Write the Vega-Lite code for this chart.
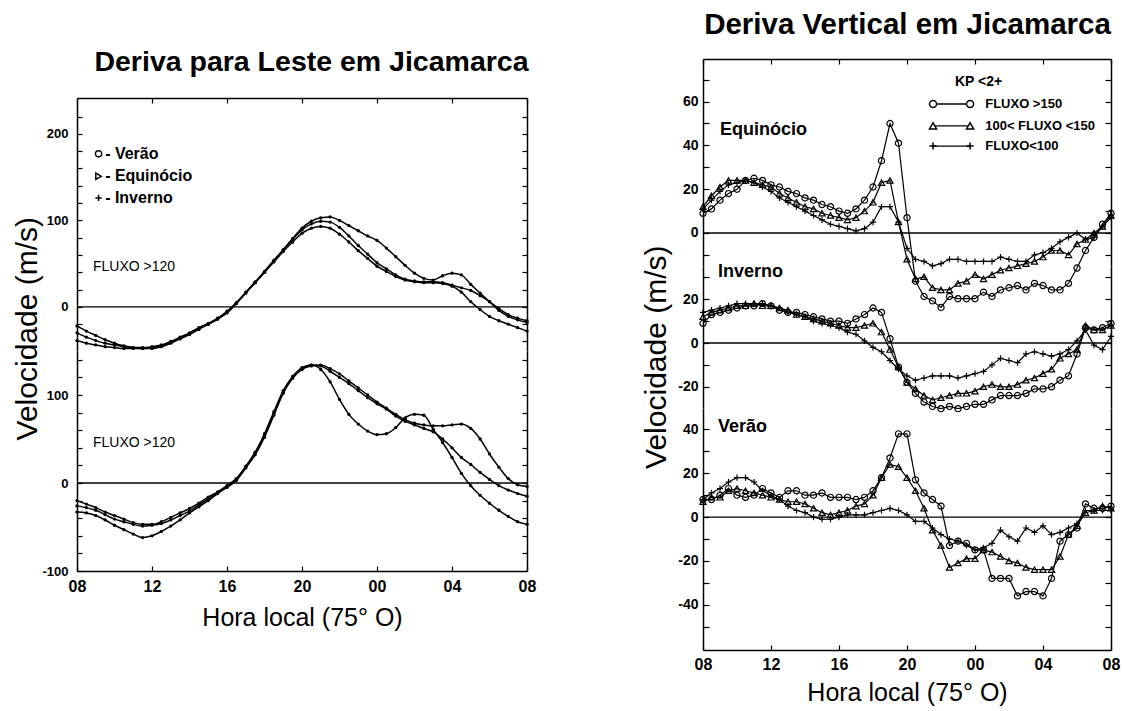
{
  "$schema": "https://vega.github.io/schema/vega-lite/v6.json",
  "background": "white",
  "padding": {"left": 12, "top": 9, "right": 4, "bottom": 2},
  "datasets": {
    "leste_sup": [
      {"serie":"V","hora":8,"vel":-39},{"serie":"V","hora":8.5,"vel":-42},{"serie":"V","hora":9,"vel":-44},{"serie":"V","hora":9.5,"vel":-46},{"serie":"V","hora":10,"vel":-47},{"serie":"V","hora":10.5,"vel":-48},{"serie":"V","hora":11,"vel":-48},{"serie":"V","hora":11.5,"vel":-48},{"serie":"V","hora":12,"vel":-47},{"serie":"V","hora":12.5,"vel":-45},{"serie":"V","hora":13,"vel":-41},{"serie":"V","hora":13.5,"vel":-36},{"serie":"V","hora":14,"vel":-31},{"serie":"V","hora":14.5,"vel":-25},{"serie":"V","hora":15,"vel":-20},{"serie":"V","hora":15.5,"vel":-14},{"serie":"V","hora":16,"vel":-7},{"serie":"V","hora":16.5,"vel":4},{"serie":"V","hora":17,"vel":16},{"serie":"V","hora":17.5,"vel":28},{"serie":"V","hora":18,"vel":40},{"serie":"V","hora":18.5,"vel":52},{"serie":"V","hora":19,"vel":64},{"serie":"V","hora":19.5,"vel":75},{"serie":"V","hora":20,"vel":85},{"serie":"V","hora":20.5,"vel":91},{"serie":"V","hora":21,"vel":93},{"serie":"V","hora":21.5,"vel":91},{"serie":"V","hora":22,"vel":84},{"serie":"V","hora":22.5,"vel":75},{"serie":"V","hora":23,"vel":65},{"serie":"V","hora":23.5,"vel":56},{"serie":"V","hora":24,"vel":47},{"serie":"V","hora":24.5,"vel":41},{"serie":"V","hora":25,"vel":35},{"serie":"V","hora":25.5,"vel":31},{"serie":"V","hora":26,"vel":29},{"serie":"V","hora":26.5,"vel":28},{"serie":"V","hora":27,"vel":28},{"serie":"V","hora":27.5,"vel":27},{"serie":"V","hora":28,"vel":24},{"serie":"V","hora":28.5,"vel":17},{"serie":"V","hora":29,"vel":6},{"serie":"V","hora":29.5,"vel":-3},{"serie":"V","hora":30,"vel":-11},{"serie":"V","hora":30.5,"vel":-16},{"serie":"V","hora":31,"vel":-20},{"serie":"V","hora":31.5,"vel":-24},{"serie":"V","hora":32,"vel":-28},
      {"serie":"E","hora":8,"vel":-30},{"serie":"E","hora":8.5,"vel":-35},{"serie":"E","hora":9,"vel":-39},{"serie":"E","hora":9.5,"vel":-42},{"serie":"E","hora":10,"vel":-44},{"serie":"E","hora":10.5,"vel":-46},{"serie":"E","hora":11,"vel":-47},{"serie":"E","hora":11.5,"vel":-47},{"serie":"E","hora":12,"vel":-46},{"serie":"E","hora":12.5,"vel":-44},{"serie":"E","hora":13,"vel":-40},{"serie":"E","hora":13.5,"vel":-35},{"serie":"E","hora":14,"vel":-30},{"serie":"E","hora":14.5,"vel":-24},{"serie":"E","hora":15,"vel":-19},{"serie":"E","hora":15.5,"vel":-13},{"serie":"E","hora":16,"vel":-5},{"serie":"E","hora":16.5,"vel":5},{"serie":"E","hora":17,"vel":17},{"serie":"E","hora":17.5,"vel":29},{"serie":"E","hora":18,"vel":41},{"serie":"E","hora":18.5,"vel":54},{"serie":"E","hora":19,"vel":66},{"serie":"E","hora":19.5,"vel":78},{"serie":"E","hora":20,"vel":89},{"serie":"E","hora":20.5,"vel":96},{"serie":"E","hora":21,"vel":99},{"serie":"E","hora":21.5,"vel":98},{"serie":"E","hora":22,"vel":92},{"serie":"E","hora":22.5,"vel":82},{"serie":"E","hora":23,"vel":71},{"serie":"E","hora":23.5,"vel":61},{"serie":"E","hora":24,"vel":51},{"serie":"E","hora":24.5,"vel":44},{"serie":"E","hora":25,"vel":37},{"serie":"E","hora":25.5,"vel":32},{"serie":"E","hora":26,"vel":30},{"serie":"E","hora":26.5,"vel":29},{"serie":"E","hora":27,"vel":29},{"serie":"E","hora":27.5,"vel":28},{"serie":"E","hora":28,"vel":25},{"serie":"E","hora":28.5,"vel":22},{"serie":"E","hora":29,"vel":19},{"serie":"E","hora":29.5,"vel":13},{"serie":"E","hora":30,"vel":6},{"serie":"E","hora":30.5,"vel":-2},{"serie":"E","hora":31,"vel":-9},{"serie":"E","hora":31.5,"vel":-13},{"serie":"E","hora":32,"vel":-16},
      {"serie":"I","hora":8,"vel":-22},{"serie":"I","hora":8.5,"vel":-28},{"serie":"I","hora":9,"vel":-33},{"serie":"I","hora":9.5,"vel":-38},{"serie":"I","hora":10,"vel":-42},{"serie":"I","hora":10.5,"vel":-45},{"serie":"I","hora":11,"vel":-47},{"serie":"I","hora":11.5,"vel":-48},{"serie":"I","hora":12,"vel":-48},{"serie":"I","hora":12.5,"vel":-46},{"serie":"I","hora":13,"vel":-42},{"serie":"I","hora":13.5,"vel":-37},{"serie":"I","hora":14,"vel":-32},{"serie":"I","hora":14.5,"vel":-26},{"serie":"I","hora":15,"vel":-20},{"serie":"I","hora":15.5,"vel":-14},{"serie":"I","hora":16,"vel":-6},{"serie":"I","hora":16.5,"vel":4},{"serie":"I","hora":17,"vel":16},{"serie":"I","hora":17.5,"vel":28},{"serie":"I","hora":18,"vel":40},{"serie":"I","hora":18.5,"vel":53},{"serie":"I","hora":19,"vel":66},{"serie":"I","hora":19.5,"vel":79},{"serie":"I","hora":20,"vel":91},{"serie":"I","hora":20.5,"vel":99},{"serie":"I","hora":21,"vel":103},{"serie":"I","hora":21.5,"vel":104},{"serie":"I","hora":22,"vel":100},{"serie":"I","hora":22.5,"vel":94},{"serie":"I","hora":23,"vel":88},{"serie":"I","hora":23.5,"vel":82},{"serie":"I","hora":24,"vel":77},{"serie":"I","hora":24.5,"vel":68},{"serie":"I","hora":25,"vel":58},{"serie":"I","hora":25.5,"vel":48},{"serie":"I","hora":26,"vel":39},{"serie":"I","hora":26.5,"vel":33},{"serie":"I","hora":27,"vel":31},{"serie":"I","hora":27.5,"vel":36},{"serie":"I","hora":28,"vel":39},{"serie":"I","hora":28.5,"vel":37},{"serie":"I","hora":29,"vel":26},{"serie":"I","hora":29.5,"vel":16},{"serie":"I","hora":30,"vel":6},{"serie":"I","hora":30.5,"vel":-4},{"serie":"I","hora":31,"vel":-11},{"serie":"I","hora":31.5,"vel":-15},{"serie":"I","hora":32,"vel":-18}
    ],
    "leste_inf": [
      {"serie":"V","hora":8,"vel":-20},{"serie":"V","hora":8.5,"vel":-24},{"serie":"V","hora":9,"vel":-28},{"serie":"V","hora":9.5,"vel":-33},{"serie":"V","hora":10,"vel":-37},{"serie":"V","hora":10.5,"vel":-41},{"serie":"V","hora":11,"vel":-45},{"serie":"V","hora":11.5,"vel":-47},{"serie":"V","hora":12,"vel":-47},{"serie":"V","hora":12.5,"vel":-44},{"serie":"V","hora":13,"vel":-39},{"serie":"V","hora":13.5,"vel":-34},{"serie":"V","hora":14,"vel":-29},{"serie":"V","hora":14.5,"vel":-23},{"serie":"V","hora":15,"vel":-16},{"serie":"V","hora":15.5,"vel":-10},{"serie":"V","hora":16,"vel":-3},{"serie":"V","hora":16.5,"vel":5},{"serie":"V","hora":17,"vel":19},{"serie":"V","hora":17.5,"vel":35},{"serie":"V","hora":18,"vel":56},{"serie":"V","hora":18.5,"vel":81},{"serie":"V","hora":19,"vel":105},{"serie":"V","hora":19.5,"vel":121},{"serie":"V","hora":20,"vel":131},{"serie":"V","hora":20.5,"vel":134},{"serie":"V","hora":21,"vel":129},{"serie":"V","hora":21.5,"vel":115},{"serie":"V","hora":22,"vel":95},{"serie":"V","hora":22.5,"vel":78},{"serie":"V","hora":23,"vel":67},{"serie":"V","hora":23.5,"vel":59},{"serie":"V","hora":24,"vel":55},{"serie":"V","hora":24.5,"vel":56},{"serie":"V","hora":25,"vel":63},{"serie":"V","hora":25.5,"vel":74},{"serie":"V","hora":26,"vel":78},{"serie":"V","hora":26.5,"vel":77},{"serie":"V","hora":27,"vel":61},{"serie":"V","hora":27.5,"vel":46},{"serie":"V","hora":28,"vel":29},{"serie":"V","hora":28.5,"vel":11},{"serie":"V","hora":29,"vel":-3},{"serie":"V","hora":29.5,"vel":-14},{"serie":"V","hora":30,"vel":-23},{"serie":"V","hora":30.5,"vel":-31},{"serie":"V","hora":31,"vel":-38},{"serie":"V","hora":31.5,"vel":-44},{"serie":"V","hora":32,"vel":-47},
      {"serie":"E","hora":8,"vel":-26},{"serie":"E","hora":8.5,"vel":-28},{"serie":"E","hora":9,"vel":-31},{"serie":"E","hora":9.5,"vel":-36},{"serie":"E","hora":10,"vel":-41},{"serie":"E","hora":10.5,"vel":-44},{"serie":"E","hora":11,"vel":-47},{"serie":"E","hora":11.5,"vel":-49},{"serie":"E","hora":12,"vel":-48},{"serie":"E","hora":12.5,"vel":-46},{"serie":"E","hora":13,"vel":-42},{"serie":"E","hora":13.5,"vel":-37},{"serie":"E","hora":14,"vel":-32},{"serie":"E","hora":14.5,"vel":-25},{"serie":"E","hora":15,"vel":-18},{"serie":"E","hora":15.5,"vel":-11},{"serie":"E","hora":16,"vel":-4},{"serie":"E","hora":16.5,"vel":4},{"serie":"E","hora":17,"vel":18},{"serie":"E","hora":17.5,"vel":34},{"serie":"E","hora":18,"vel":54},{"serie":"E","hora":18.5,"vel":79},{"serie":"E","hora":19,"vel":103},{"serie":"E","hora":19.5,"vel":120},{"serie":"E","hora":20,"vel":130},{"serie":"E","hora":20.5,"vel":134},{"serie":"E","hora":21,"vel":133},{"serie":"E","hora":21.5,"vel":127},{"serie":"E","hora":22,"vel":120},{"serie":"E","hora":22.5,"vel":113},{"serie":"E","hora":23,"vel":105},{"serie":"E","hora":23.5,"vel":97},{"serie":"E","hora":24,"vel":90},{"serie":"E","hora":24.5,"vel":84},{"serie":"E","hora":25,"vel":76},{"serie":"E","hora":25.5,"vel":70},{"serie":"E","hora":26,"vel":66},{"serie":"E","hora":26.5,"vel":62},{"serie":"E","hora":27,"vel":58},{"serie":"E","hora":27.5,"vel":50},{"serie":"E","hora":28,"vel":40},{"serie":"E","hora":28.5,"vel":29},{"serie":"E","hora":29,"vel":21},{"serie":"E","hora":29.5,"vel":12},{"serie":"E","hora":30,"vel":4},{"serie":"E","hora":30.5,"vel":-3},{"serie":"E","hora":31,"vel":-8},{"serie":"E","hora":31.5,"vel":-12},{"serie":"E","hora":32,"vel":-15},
      {"serie":"I","hora":8,"vel":-33},{"serie":"I","hora":8.5,"vel":-34},{"serie":"I","hora":9,"vel":-37},{"serie":"I","hora":9.5,"vel":-42},{"serie":"I","hora":10,"vel":-48},{"serie":"I","hora":10.5,"vel":-53},{"serie":"I","hora":11,"vel":-58},{"serie":"I","hora":11.5,"vel":-62},{"serie":"I","hora":12,"vel":-60},{"serie":"I","hora":12.5,"vel":-55},{"serie":"I","hora":13,"vel":-49},{"serie":"I","hora":13.5,"vel":-42},{"serie":"I","hora":14,"vel":-34},{"serie":"I","hora":14.5,"vel":-27},{"serie":"I","hora":15,"vel":-20},{"serie":"I","hora":15.5,"vel":-12},{"serie":"I","hora":16,"vel":-5},{"serie":"I","hora":16.5,"vel":3},{"serie":"I","hora":17,"vel":17},{"serie":"I","hora":17.5,"vel":32},{"serie":"I","hora":18,"vel":52},{"serie":"I","hora":18.5,"vel":77},{"serie":"I","hora":19,"vel":102},{"serie":"I","hora":19.5,"vel":119},{"serie":"I","hora":20,"vel":129},{"serie":"I","hora":20.5,"vel":133},{"serie":"I","hora":21,"vel":134},{"serie":"I","hora":21.5,"vel":130},{"serie":"I","hora":22,"vel":124},{"serie":"I","hora":22.5,"vel":116},{"serie":"I","hora":23,"vel":108},{"serie":"I","hora":23.5,"vel":100},{"serie":"I","hora":24,"vel":92},{"serie":"I","hora":24.5,"vel":85},{"serie":"I","hora":25,"vel":78},{"serie":"I","hora":25.5,"vel":72},{"serie":"I","hora":26,"vel":68},{"serie":"I","hora":26.5,"vel":66},{"serie":"I","hora":27,"vel":65},{"serie":"I","hora":27.5,"vel":65},{"serie":"I","hora":28,"vel":66},{"serie":"I","hora":28.5,"vel":67},{"serie":"I","hora":29,"vel":62},{"serie":"I","hora":29.5,"vel":50},{"serie":"I","hora":30,"vel":33},{"serie":"I","hora":30.5,"vel":18},{"serie":"I","hora":31,"vel":5},{"serie":"I","hora":31.5,"vel":-2},{"serie":"I","hora":32,"vel":-4}
    ],
    "vert_eq": [
      {"serie":"A","hora":8,"vel":9},{"serie":"A","hora":8.5,"vel":11},{"serie":"A","hora":9,"vel":15},{"serie":"A","hora":9.5,"vel":18},{"serie":"A","hora":10,"vel":20},{"serie":"A","hora":10.5,"vel":24},{"serie":"A","hora":11,"vel":25},{"serie":"A","hora":11.5,"vel":24},{"serie":"A","hora":12,"vel":22},{"serie":"A","hora":12.5,"vel":21},{"serie":"A","hora":13,"vel":19},{"serie":"A","hora":13.5,"vel":18},{"serie":"A","hora":14,"vel":16},{"serie":"A","hora":14.5,"vel":15},{"serie":"A","hora":15,"vel":13},{"serie":"A","hora":15.5,"vel":12},{"serie":"A","hora":16,"vel":10},{"serie":"A","hora":16.5,"vel":9},{"serie":"A","hora":17,"vel":11},{"serie":"A","hora":17.5,"vel":15},{"serie":"A","hora":18,"vel":21},{"serie":"A","hora":18.5,"vel":33},{"serie":"A","hora":19,"vel":50},{"serie":"A","hora":19.5,"vel":41},{"serie":"A","hora":20,"vel":7},{"serie":"A","hora":20.5,"vel":-22},{"serie":"A","hora":21,"vel":-29},{"serie":"A","hora":21.5,"vel":-31},{"serie":"A","hora":22,"vel":-34},{"serie":"A","hora":22.5,"vel":-29},{"serie":"A","hora":23,"vel":-30},{"serie":"A","hora":23.5,"vel":-30},{"serie":"A","hora":24,"vel":-30},{"serie":"A","hora":24.5,"vel":-27},{"serie":"A","hora":25,"vel":-29},{"serie":"A","hora":25.5,"vel":-26},{"serie":"A","hora":26,"vel":-25},{"serie":"A","hora":26.5,"vel":-24},{"serie":"A","hora":27,"vel":-26},{"serie":"A","hora":27.5,"vel":-23},{"serie":"A","hora":28,"vel":-24},{"serie":"A","hora":28.5,"vel":-26},{"serie":"A","hora":29,"vel":-26},{"serie":"A","hora":29.5,"vel":-23},{"serie":"A","hora":30,"vel":-16},{"serie":"A","hora":30.5,"vel":-8},{"serie":"A","hora":31,"vel":-2},{"serie":"A","hora":31.5,"vel":4},{"serie":"A","hora":32,"vel":9},
      {"serie":"B","hora":8,"vel":12},{"serie":"B","hora":8.5,"vel":17},{"serie":"B","hora":9,"vel":21},{"serie":"B","hora":9.5,"vel":24},{"serie":"B","hora":10,"vel":24},{"serie":"B","hora":10.5,"vel":24},{"serie":"B","hora":11,"vel":23},{"serie":"B","hora":11.5,"vel":22},{"serie":"B","hora":12,"vel":21},{"serie":"B","hora":12.5,"vel":18},{"serie":"B","hora":13,"vel":16},{"serie":"B","hora":13.5,"vel":14},{"serie":"B","hora":14,"vel":12},{"serie":"B","hora":14.5,"vel":11},{"serie":"B","hora":15,"vel":9},{"serie":"B","hora":15.5,"vel":8},{"serie":"B","hora":16,"vel":7},{"serie":"B","hora":16.5,"vel":6},{"serie":"B","hora":17,"vel":7},{"serie":"B","hora":17.5,"vel":10},{"serie":"B","hora":18,"vel":14},{"serie":"B","hora":18.5,"vel":23},{"serie":"B","hora":19,"vel":24},{"serie":"B","hora":19.5,"vel":5},{"serie":"B","hora":20,"vel":-12},{"serie":"B","hora":20.5,"vel":-21},{"serie":"B","hora":21,"vel":-20},{"serie":"B","hora":21.5,"vel":-25},{"serie":"B","hora":22,"vel":-26},{"serie":"B","hora":22.5,"vel":-26},{"serie":"B","hora":23,"vel":-23},{"serie":"B","hora":23.5,"vel":-22},{"serie":"B","hora":24,"vel":-19},{"serie":"B","hora":24.5,"vel":-21},{"serie":"B","hora":25,"vel":-19},{"serie":"B","hora":25.5,"vel":-17},{"serie":"B","hora":26,"vel":-16},{"serie":"B","hora":26.5,"vel":-15},{"serie":"B","hora":27,"vel":-14},{"serie":"B","hora":27.5,"vel":-13},{"serie":"B","hora":28,"vel":-11},{"serie":"B","hora":28.5,"vel":-8},{"serie":"B","hora":29,"vel":-8},{"serie":"B","hora":29.5,"vel":-10},{"serie":"B","hora":30,"vel":-5},{"serie":"B","hora":30.5,"vel":-3},{"serie":"B","hora":31,"vel":0},{"serie":"B","hora":31.5,"vel":3},{"serie":"B","hora":32,"vel":8},
      {"serie":"C","hora":8,"vel":11},{"serie":"C","hora":8.5,"vel":15},{"serie":"C","hora":9,"vel":19},{"serie":"C","hora":9.5,"vel":22},{"serie":"C","hora":10,"vel":23},{"serie":"C","hora":10.5,"vel":24},{"serie":"C","hora":11,"vel":23},{"serie":"C","hora":11.5,"vel":21},{"serie":"C","hora":12,"vel":19},{"serie":"C","hora":12.5,"vel":16},{"serie":"C","hora":13,"vel":14},{"serie":"C","hora":13.5,"vel":12},{"serie":"C","hora":14,"vel":10},{"serie":"C","hora":14.5,"vel":8},{"serie":"C","hora":15,"vel":6},{"serie":"C","hora":15.5,"vel":4},{"serie":"C","hora":16,"vel":3},{"serie":"C","hora":16.5,"vel":2},{"serie":"C","hora":17,"vel":1},{"serie":"C","hora":17.5,"vel":2},{"serie":"C","hora":18,"vel":5},{"serie":"C","hora":18.5,"vel":12},{"serie":"C","hora":19,"vel":12},{"serie":"C","hora":19.5,"vel":5},{"serie":"C","hora":20,"vel":-7},{"serie":"C","hora":20.5,"vel":-12},{"serie":"C","hora":21,"vel":-13},{"serie":"C","hora":21.5,"vel":-15},{"serie":"C","hora":22,"vel":-14},{"serie":"C","hora":22.5,"vel":-12},{"serie":"C","hora":23,"vel":-12},{"serie":"C","hora":23.5,"vel":-13},{"serie":"C","hora":24,"vel":-13},{"serie":"C","hora":24.5,"vel":-13},{"serie":"C","hora":25,"vel":-13},{"serie":"C","hora":25.5,"vel":-11},{"serie":"C","hora":26,"vel":-12},{"serie":"C","hora":26.5,"vel":-13},{"serie":"C","hora":27,"vel":-13},{"serie":"C","hora":27.5,"vel":-10},{"serie":"C","hora":28,"vel":-9},{"serie":"C","hora":28.5,"vel":-7},{"serie":"C","hora":29,"vel":-4},{"serie":"C","hora":29.5,"vel":-2},{"serie":"C","hora":30,"vel":0},{"serie":"C","hora":30.5,"vel":-3},{"serie":"C","hora":31,"vel":-2},{"serie":"C","hora":31.5,"vel":3},{"serie":"C","hora":32,"vel":7}
    ],
    "vert_in": [
      {"serie":"A","hora":8,"vel":9},{"serie":"A","hora":8.5,"vel":13},{"serie":"A","hora":9,"vel":14},{"serie":"A","hora":9.5,"vel":15},{"serie":"A","hora":10,"vel":16},{"serie":"A","hora":10.5,"vel":17},{"serie":"A","hora":11,"vel":17},{"serie":"A","hora":11.5,"vel":18},{"serie":"A","hora":12,"vel":17},{"serie":"A","hora":12.5,"vel":15},{"serie":"A","hora":13,"vel":14},{"serie":"A","hora":13.5,"vel":14},{"serie":"A","hora":14,"vel":13},{"serie":"A","hora":14.5,"vel":12},{"serie":"A","hora":15,"vel":11},{"serie":"A","hora":15.5,"vel":10},{"serie":"A","hora":16,"vel":10},{"serie":"A","hora":16.5,"vel":9},{"serie":"A","hora":17,"vel":11},{"serie":"A","hora":17.5,"vel":13},{"serie":"A","hora":18,"vel":16},{"serie":"A","hora":18.5,"vel":14},{"serie":"A","hora":19,"vel":2},{"serie":"A","hora":19.5,"vel":-11},{"serie":"A","hora":20,"vel":-18},{"serie":"A","hora":20.5,"vel":-23},{"serie":"A","hora":21,"vel":-27},{"serie":"A","hora":21.5,"vel":-29},{"serie":"A","hora":22,"vel":-30},{"serie":"A","hora":22.5,"vel":-29},{"serie":"A","hora":23,"vel":-30},{"serie":"A","hora":23.5,"vel":-29},{"serie":"A","hora":24,"vel":-28},{"serie":"A","hora":24.5,"vel":-28},{"serie":"A","hora":25,"vel":-26},{"serie":"A","hora":25.5,"vel":-24},{"serie":"A","hora":26,"vel":-24},{"serie":"A","hora":26.5,"vel":-24},{"serie":"A","hora":27,"vel":-23},{"serie":"A","hora":27.5,"vel":-21},{"serie":"A","hora":28,"vel":-21},{"serie":"A","hora":28.5,"vel":-20},{"serie":"A","hora":29,"vel":-17},{"serie":"A","hora":29.5,"vel":-15},{"serie":"A","hora":30,"vel":-5},{"serie":"A","hora":30.5,"vel":7},{"serie":"A","hora":31,"vel":6},{"serie":"A","hora":31.5,"vel":7},{"serie":"A","hora":32,"vel":9},
      {"serie":"B","hora":8,"vel":12},{"serie":"B","hora":8.5,"vel":14},{"serie":"B","hora":9,"vel":15},{"serie":"B","hora":9.5,"vel":16},{"serie":"B","hora":10,"vel":17},{"serie":"B","hora":10.5,"vel":17},{"serie":"B","hora":11,"vel":18},{"serie":"B","hora":11.5,"vel":17},{"serie":"B","hora":12,"vel":17},{"serie":"B","hora":12.5,"vel":16},{"serie":"B","hora":13,"vel":15},{"serie":"B","hora":13.5,"vel":13},{"serie":"B","hora":14,"vel":12},{"serie":"B","hora":14.5,"vel":11},{"serie":"B","hora":15,"vel":10},{"serie":"B","hora":15.5,"vel":9},{"serie":"B","hora":16,"vel":8},{"serie":"B","hora":16.5,"vel":7},{"serie":"B","hora":17,"vel":7},{"serie":"B","hora":17.5,"vel":8},{"serie":"B","hora":18,"vel":9},{"serie":"B","hora":18.5,"vel":5},{"serie":"B","hora":19,"vel":-3},{"serie":"B","hora":19.5,"vel":-11},{"serie":"B","hora":20,"vel":-18},{"serie":"B","hora":20.5,"vel":-21},{"serie":"B","hora":21,"vel":-24},{"serie":"B","hora":21.5,"vel":-26},{"serie":"B","hora":22,"vel":-25},{"serie":"B","hora":22.5,"vel":-24},{"serie":"B","hora":23,"vel":-23},{"serie":"B","hora":23.5,"vel":-23},{"serie":"B","hora":24,"vel":-22},{"serie":"B","hora":24.5,"vel":-20},{"serie":"B","hora":25,"vel":-19},{"serie":"B","hora":25.5,"vel":-20},{"serie":"B","hora":26,"vel":-20},{"serie":"B","hora":26.5,"vel":-19},{"serie":"B","hora":27,"vel":-17},{"serie":"B","hora":27.5,"vel":-16},{"serie":"B","hora":28,"vel":-14},{"serie":"B","hora":28.5,"vel":-12},{"serie":"B","hora":29,"vel":-7},{"serie":"B","hora":29.5,"vel":-5},{"serie":"B","hora":30,"vel":-3},{"serie":"B","hora":30.5,"vel":8},{"serie":"B","hora":31,"vel":6},{"serie":"B","hora":31.5,"vel":6},{"serie":"B","hora":32,"vel":8},
      {"serie":"C","hora":8,"vel":14},{"serie":"C","hora":8.5,"vel":15},{"serie":"C","hora":9,"vel":16},{"serie":"C","hora":9.5,"vel":17},{"serie":"C","hora":10,"vel":18},{"serie":"C","hora":10.5,"vel":18},{"serie":"C","hora":11,"vel":18},{"serie":"C","hora":11.5,"vel":18},{"serie":"C","hora":12,"vel":17},{"serie":"C","hora":12.5,"vel":16},{"serie":"C","hora":13,"vel":14},{"serie":"C","hora":13.5,"vel":13},{"serie":"C","hora":14,"vel":12},{"serie":"C","hora":14.5,"vel":10},{"serie":"C","hora":15,"vel":9},{"serie":"C","hora":15.5,"vel":8},{"serie":"C","hora":16,"vel":7},{"serie":"C","hora":16.5,"vel":5},{"serie":"C","hora":17,"vel":4},{"serie":"C","hora":17.5,"vel":1},{"serie":"C","hora":18,"vel":-2},{"serie":"C","hora":18.5,"vel":-4},{"serie":"C","hora":19,"vel":-8},{"serie":"C","hora":19.5,"vel":-12},{"serie":"C","hora":20,"vel":-15},{"serie":"C","hora":20.5,"vel":-17},{"serie":"C","hora":21,"vel":-16},{"serie":"C","hora":21.5,"vel":-15},{"serie":"C","hora":22,"vel":-15},{"serie":"C","hora":22.5,"vel":-15},{"serie":"C","hora":23,"vel":-16},{"serie":"C","hora":23.5,"vel":-15},{"serie":"C","hora":24,"vel":-14},{"serie":"C","hora":24.5,"vel":-13},{"serie":"C","hora":25,"vel":-10},{"serie":"C","hora":25.5,"vel":-7},{"serie":"C","hora":26,"vel":-8},{"serie":"C","hora":26.5,"vel":-9},{"serie":"C","hora":27,"vel":-5},{"serie":"C","hora":27.5,"vel":-4},{"serie":"C","hora":28,"vel":-5},{"serie":"C","hora":28.5,"vel":-6},{"serie":"C","hora":29,"vel":-5},{"serie":"C","hora":29.5,"vel":-3},{"serie":"C","hora":30,"vel":1},{"serie":"C","hora":30.5,"vel":6},{"serie":"C","hora":31,"vel":-1},{"serie":"C","hora":31.5,"vel":-3},{"serie":"C","hora":32,"vel":3}
    ],
    "vert_ve": [
      {"serie":"A","hora":8,"vel":8},{"serie":"A","hora":8.5,"vel":8},{"serie":"A","hora":9,"vel":10},{"serie":"A","hora":9.5,"vel":13},{"serie":"A","hora":10,"vel":10},{"serie":"A","hora":10.5,"vel":9},{"serie":"A","hora":11,"vel":10},{"serie":"A","hora":11.5,"vel":13},{"serie":"A","hora":12,"vel":11},{"serie":"A","hora":12.5,"vel":9},{"serie":"A","hora":13,"vel":12},{"serie":"A","hora":13.5,"vel":12},{"serie":"A","hora":14,"vel":10},{"serie":"A","hora":14.5,"vel":10},{"serie":"A","hora":15,"vel":11},{"serie":"A","hora":15.5,"vel":9},{"serie":"A","hora":16,"vel":9},{"serie":"A","hora":16.5,"vel":9},{"serie":"A","hora":17,"vel":8},{"serie":"A","hora":17.5,"vel":9},{"serie":"A","hora":18,"vel":12},{"serie":"A","hora":18.5,"vel":18},{"serie":"A","hora":19,"vel":27},{"serie":"A","hora":19.5,"vel":38},{"serie":"A","hora":20,"vel":38},{"serie":"A","hora":20.5,"vel":17},{"serie":"A","hora":21,"vel":11},{"serie":"A","hora":21.5,"vel":8},{"serie":"A","hora":22,"vel":5},{"serie":"A","hora":22.5,"vel":-13},{"serie":"A","hora":23,"vel":-11},{"serie":"A","hora":23.5,"vel":-12},{"serie":"A","hora":24,"vel":-15},{"serie":"A","hora":24.5,"vel":-15},{"serie":"A","hora":25,"vel":-28},{"serie":"A","hora":25.5,"vel":-28},{"serie":"A","hora":26,"vel":-28},{"serie":"A","hora":26.5,"vel":-36},{"serie":"A","hora":27,"vel":-34},{"serie":"A","hora":27.5,"vel":-34},{"serie":"A","hora":28,"vel":-36},{"serie":"A","hora":28.5,"vel":-28},{"serie":"A","hora":29,"vel":-11},{"serie":"A","hora":29.5,"vel":-8},{"serie":"A","hora":30,"vel":-5},{"serie":"A","hora":30.5,"vel":6},{"serie":"A","hora":31,"vel":4},{"serie":"A","hora":31.5,"vel":4},{"serie":"A","hora":32,"vel":5},
      {"serie":"B","hora":8,"vel":7},{"serie":"B","hora":8.5,"vel":9},{"serie":"B","hora":9,"vel":9},{"serie":"B","hora":9.5,"vel":12},{"serie":"B","hora":10,"vel":13},{"serie":"B","hora":10.5,"vel":12},{"serie":"B","hora":11,"vel":11},{"serie":"B","hora":11.5,"vel":10},{"serie":"B","hora":12,"vel":9},{"serie":"B","hora":12.5,"vel":8},{"serie":"B","hora":13,"vel":7},{"serie":"B","hora":13.5,"vel":7},{"serie":"B","hora":14,"vel":6},{"serie":"B","hora":14.5,"vel":4},{"serie":"B","hora":15,"vel":2},{"serie":"B","hora":15.5,"vel":1},{"serie":"B","hora":16,"vel":2},{"serie":"B","hora":16.5,"vel":3},{"serie":"B","hora":17,"vel":5},{"serie":"B","hora":17.5,"vel":6},{"serie":"B","hora":18,"vel":10},{"serie":"B","hora":18.5,"vel":18},{"serie":"B","hora":19,"vel":24},{"serie":"B","hora":19.5,"vel":23},{"serie":"B","hora":20,"vel":18},{"serie":"B","hora":20.5,"vel":12},{"serie":"B","hora":21,"vel":4},{"serie":"B","hora":21.5,"vel":-6},{"serie":"B","hora":22,"vel":-13},{"serie":"B","hora":22.5,"vel":-23},{"serie":"B","hora":23,"vel":-21},{"serie":"B","hora":23.5,"vel":-19},{"serie":"B","hora":24,"vel":-19},{"serie":"B","hora":24.5,"vel":-15},{"serie":"B","hora":25,"vel":-16},{"serie":"B","hora":25.5,"vel":-18},{"serie":"B","hora":26,"vel":-20},{"serie":"B","hora":26.5,"vel":-21},{"serie":"B","hora":27,"vel":-23},{"serie":"B","hora":27.5,"vel":-24},{"serie":"B","hora":28,"vel":-24},{"serie":"B","hora":28.5,"vel":-24},{"serie":"B","hora":29,"vel":-18},{"serie":"B","hora":29.5,"vel":-8},{"serie":"B","hora":30,"vel":-4},{"serie":"B","hora":30.5,"vel":2},{"serie":"B","hora":31,"vel":3},{"serie":"B","hora":31.5,"vel":5},{"serie":"B","hora":32,"vel":4},
      {"serie":"C","hora":8,"vel":8},{"serie":"C","hora":8.5,"vel":11},{"serie":"C","hora":9,"vel":13},{"serie":"C","hora":9.5,"vel":16},{"serie":"C","hora":10,"vel":18},{"serie":"C","hora":10.5,"vel":18},{"serie":"C","hora":11,"vel":16},{"serie":"C","hora":11.5,"vel":12},{"serie":"C","hora":12,"vel":10},{"serie":"C","hora":12.5,"vel":8},{"serie":"C","hora":13,"vel":5},{"serie":"C","hora":13.5,"vel":3},{"serie":"C","hora":14,"vel":2},{"serie":"C","hora":14.5,"vel":0},{"serie":"C","hora":15,"vel":-1},{"serie":"C","hora":15.5,"vel":-1},{"serie":"C","hora":16,"vel":0},{"serie":"C","hora":16.5,"vel":1},{"serie":"C","hora":17,"vel":1},{"serie":"C","hora":17.5,"vel":1},{"serie":"C","hora":18,"vel":2},{"serie":"C","hora":18.5,"vel":3},{"serie":"C","hora":19,"vel":4},{"serie":"C","hora":19.5,"vel":3},{"serie":"C","hora":20,"vel":1},{"serie":"C","hora":20.5,"vel":-2},{"serie":"C","hora":21,"vel":-2},{"serie":"C","hora":21.5,"vel":-5},{"serie":"C","hora":22,"vel":-8},{"serie":"C","hora":22.5,"vel":-10},{"serie":"C","hora":23,"vel":-11},{"serie":"C","hora":23.5,"vel":-13},{"serie":"C","hora":24,"vel":-15},{"serie":"C","hora":24.5,"vel":-14},{"serie":"C","hora":25,"vel":-12},{"serie":"C","hora":25.5,"vel":-6},{"serie":"C","hora":26,"vel":-9},{"serie":"C","hora":26.5,"vel":-11},{"serie":"C","hora":27,"vel":-5},{"serie":"C","hora":27.5,"vel":-7},{"serie":"C","hora":28,"vel":-4},{"serie":"C","hora":28.5,"vel":-8},{"serie":"C","hora":29,"vel":-7},{"serie":"C","hora":29.5,"vel":-5},{"serie":"C","hora":30,"vel":-3},{"serie":"C","hora":30.5,"vel":3},{"serie":"C","hora":31,"vel":3},{"serie":"C","hora":31.5,"vel":3},{"serie":"C","hora":32,"vel":3}
    ]
  },
  "spacing": 105,
  "resolve": {"scale": {"shape": "independent"}},
  "hconcat": [
    {
      "title": {"text": "Velocidade (m/s)", "orient": "left", "anchor": "middle", "fontSize": 30, "fontWeight": "normal", "offset": -1, "dx": 10},
      "spacing": 0,
      "bounds": "flush",
      "vconcat": [
        {
          "width": 450, "height": 39,
          "data": {"values": [{}]},
          "mark": {"type": "text"},
          "encoding": {"text": {"value": ""}}
        },
        {
          "width": 450, "height": 253,
          "data": {"name": "leste_sup"},
          "layer": [
            {"data": {"values": [{}]}, "mark": {"type": "rule", "color": "black", "strokeWidth": 1.3},
             "encoding": {"y": {"datum": 0, "type": "quantitative", "scale": {"domain": [-51, 241.5], "nice": false, "zero": false}, "axis": null}}},
            {"mark": {"type": "line", "interpolate": "monotone", "color": "black", "strokeWidth": 1.5},
             "encoding": {
               "x": {"field": "hora", "type": "quantitative", "scale": {"domain": [8, 32], "nice": false, "zero": false},
                     "axis": {"orient": "top", "values": [8,9,10,11,12,13,14,15,16,17,18,19,20,21,22,23,24,25,26,27,28,29,30,31,32], "labels": false,
                              "tickSize": -5,
                              "title": "Deriva para Leste em Jicamarca", "titleFontSize": 28.5, "titleFontWeight": "bold", "titlePadding": 21, "titleX": 234}},
               "y": {"field": "vel", "type": "quantitative", "scale": {"domain": [-51, 241.5], "nice": false, "zero": false},
                     "axis": {"orient": "left", "values": [-40,-20,0,20,40,60,80,100,120,140,160,180,200,220], "labelExpr": "datum.value % 100 === 0 ? '' + datum.value : ''", "tickSize": -5, "labelPadding": 14, "labelFontSize": 13, "title": null}},
               "detail": {"field": "serie"}}},
            {"mark": {"type": "point", "filled": true, "size": 11, "color": "black", "opacity": 1},
             "encoding": {
               "x": {"field": "hora", "type": "quantitative", "scale": {"domain": [8, 32], "nice": false, "zero": false}},
               "y": {"field": "vel", "type": "quantitative", "scale": {"domain": [-51, 241.5], "nice": false, "zero": false},
                     "axis": {"orient": "right", "values": [-40,-20,0,20,40,60,80,100,120,140,160,180,200,220], "labels": false, "tickSize": -5, "title": null}}}},
            {"data": {"values": [{"serie": "V", "hora": 9.15, "vel": 177}, {"serie": "E", "hora": 9.15, "vel": 151}, {"serie": "I", "hora": 9.15, "vel": 126}]},
             "mark": {"type": "point", "filled": false, "size": 40, "strokeWidth": 1.5, "color": "black", "opacity": 1},
             "encoding": {
               "x": {"field": "hora", "type": "quantitative"},
               "y": {"field": "vel", "type": "quantitative", "axis": null},
               "shape": {"field": "serie", "type": "nominal", "scale": {"domain": ["V", "E", "I"], "range": ["circle", "triangle-right", "M-1,0H1M0,-1V1"]}, "legend": null}}},
            {"data": {"values": [{"rotulo": "- Verão", "hora": 9.5, "vel": 177}, {"rotulo": "- Equinócio", "hora": 9.5, "vel": 151}, {"rotulo": "- Inverno", "hora": 9.5, "vel": 126}]},
             "mark": {"type": "text", "align": "left", "baseline": "middle", "fontSize": 16, "fontWeight": "bold", "color": "black"},
             "encoding": {
               "x": {"field": "hora", "type": "quantitative"},
               "y": {"field": "vel", "type": "quantitative", "axis": null},
               "text": {"field": "rotulo"}}},
            {"data": {"values": [{"rotulo": "FLUXO >120", "hora": 8.85, "vel": 46}]},
             "mark": {"type": "text", "align": "left", "baseline": "middle", "fontSize": 14, "color": "black"},
             "encoding": {
               "x": {"field": "hora", "type": "quantitative"},
               "y": {"field": "vel", "type": "quantitative", "axis": null},
               "text": {"field": "rotulo"}}}
          ]
        },
        {
          "width": 450, "height": 220,
          "data": {"name": "leste_inf"},
          "layer": [
            {"data": {"values": [{}]}, "mark": {"type": "rule", "color": "black", "strokeWidth": 1.3},
             "encoding": {"y": {"datum": 0, "type": "quantitative", "scale": {"domain": [-100, 150], "nice": false, "zero": false}, "axis": null}}},
            {"mark": {"type": "line", "interpolate": "monotone", "color": "black", "strokeWidth": 1.5},
             "encoding": {
               "x": {"field": "hora", "type": "quantitative", "scale": {"domain": [8, 32], "nice": false, "zero": false},
                     "axis": {"orient": "bottom", "values": [8,9,10,11,12,13,14,15,16,17,18,19,20,21,22,23,24,25,26,27,28,29,30,31,32],
                              "labelExpr": "datum.value % 4 === 0 ? ((datum.value % 24) < 10 ? '0' : '') + (datum.value % 24) : ''",
                              "labelFlush": false, "labelOverlap": false, "labelFontSize": 16, "labelPadding": 12,
                              "tickSize": -5,
                              "title": "Hora local (75° O)", "titleFontSize": 25, "titlePadding": 11}},
               "y": {"field": "vel", "type": "quantitative", "scale": {"domain": [-100, 150], "nice": false, "zero": false},
                     "axis": {"orient": "left", "values": [-100,-80,-60,-40,-20,0,20,40,60,80,100,120,140], "labelExpr": "datum.value % 100 === 0 ? '' + datum.value : ''", "tickSize": -5, "labelPadding": 14, "labelFontSize": 13, "title": null}},
               "detail": {"field": "serie"}}},
            {"mark": {"type": "point", "filled": true, "size": 11, "color": "black", "opacity": 1},
             "encoding": {
               "x": {"field": "hora", "type": "quantitative", "scale": {"domain": [8, 32], "nice": false, "zero": false}},
               "y": {"field": "vel", "type": "quantitative", "scale": {"domain": [-100, 150], "nice": false, "zero": false},
                     "axis": {"orient": "right", "values": [-80,-60,-40,-20,0,20,40,60,80,100,120,140], "labels": false, "tickSize": -5, "title": null}}}},
            {"data": {"values": [{"rotulo": "FLUXO >120", "hora": 8.85, "vel": 45.5}]},
             "mark": {"type": "text", "align": "left", "baseline": "middle", "fontSize": 14, "color": "black"},
             "encoding": {
               "x": {"field": "hora", "type": "quantitative"},
               "y": {"field": "vel", "type": "quantitative", "axis": null},
               "text": {"field": "rotulo"}}}
          ]
        }
      ]
    },
    {
      "title": {"text": "Velocidade (m/s)", "orient": "left", "anchor": "middle", "fontSize": 30, "fontWeight": "normal", "offset": 6},
      "spacing": 0,
      "bounds": "flush",
      "vconcat": [
        {
          "width": 408, "height": 207,
          "data": {"name": "vert_eq"},
          "layer": [
            {"data": {"values": [{}]}, "mark": {"type": "rule", "color": "black", "strokeWidth": 1.3},
             "encoding": {"y": {"datum": 0, "type": "quantitative", "scale": {"domain": [-15.07, 79.45], "nice": false, "zero": false}, "axis": null}}},
            {"mark": {"type": "line", "color": "black", "strokeWidth": 1.2},
             "encoding": {
               "x": {"field": "hora", "type": "quantitative", "scale": {"domain": [8, 32], "nice": false, "zero": false},
                     "axis": {"orient": "top", "values": [8,9,10,11,12,13,14,15,16,17,18,19,20,21,22,23,24,25,26,27,28,29,30,31,32], "labels": false,
                              "tickSize": -5,
                              "title": "Deriva Vertical em Jicamarca", "titleFontSize": 29.5, "titleFontWeight": "bold", "titlePadding": 19}},
               "y": {"field": "vel", "type": "quantitative", "scale": {"domain": [-15.07, 79.45], "nice": false, "zero": false},
                     "axis": {"orient": "left", "values": [-10,0,10,20,30,40,50,60,70], "labelExpr": "datum.value % 20 === 0 ? '' + datum.value : ''", "tickSize": -6, "labelPadding": 11, "labelFontSize": 14, "title": null}},
               "detail": {"field": "serie"}}},
            {"mark": {"type": "point", "filled": false, "size": 38, "strokeWidth": 1.2, "color": "black", "opacity": 1},
             "encoding": {
               "x": {"field": "hora", "type": "quantitative", "scale": {"domain": [8, 32], "nice": false, "zero": false}},
               "y": {"field": "vel", "type": "quantitative", "scale": {"domain": [-15.07, 79.45], "nice": false, "zero": false},
                     "axis": {"orient": "right", "values": [-10,0,10,20,30,40,50,60,70], "labels": false, "tickSize": -6, "title": null}},
               "shape": {"field": "serie", "type": "nominal", "scale": {"domain": ["A", "B", "C"], "range": ["circle", "triangle-up", "M-1,0H1M0,-1V1"]}, "legend": null}}},
            {"data": {"values": [{"hora": 21.53, "hora2": 23.71, "vel": 58.9}, {"hora": 21.53, "hora2": 23.71, "vel": 48.9}, {"hora": 21.53, "hora2": 23.71, "vel": 39.7}]},
             "mark": {"type": "rule", "color": "black", "strokeWidth": 1.3},
             "encoding": {
               "x": {"field": "hora", "type": "quantitative"},
               "x2": {"field": "hora2"},
               "y": {"field": "vel", "type": "quantitative", "axis": null}}},
            {"data": {"values": [{"serie": "A", "hora": 21.53, "vel": 58.9}, {"serie": "A", "hora": 23.71, "vel": 58.9}, {"serie": "B", "hora": 21.53, "vel": 48.9}, {"serie": "B", "hora": 23.71, "vel": 48.9}, {"serie": "C", "hora": 21.53, "vel": 39.7}, {"serie": "C", "hora": 23.71, "vel": 39.7}]},
             "mark": {"type": "point", "filled": true, "fill": "white", "size": 50, "strokeWidth": 1.5, "color": "black", "stroke": "black", "opacity": 1},
             "encoding": {
               "x": {"field": "hora", "type": "quantitative"},
               "y": {"field": "vel", "type": "quantitative", "axis": null},
               "shape": {"field": "serie", "type": "nominal", "legend": null}}},
            {"data": {"values": [{"rotulo": "FLUXO >150", "hora": 24.6, "vel": 58.9}, {"rotulo": "100< FLUXO <150", "hora": 24.6, "vel": 48.9}, {"rotulo": "FLUXO<100", "hora": 24.6, "vel": 39.7}]},
             "mark": {"type": "text", "align": "left", "baseline": "middle", "fontSize": 13, "fontWeight": "bold", "color": "black"},
             "encoding": {
               "x": {"field": "hora", "type": "quantitative"},
               "y": {"field": "vel", "type": "quantitative", "axis": null},
               "text": {"field": "rotulo"}}},
            {"data": {"values": [{"rotulo": "KP <2+", "hora": 22.82, "vel": 69}]},
             "mark": {"type": "text", "align": "left", "baseline": "middle", "fontSize": 14, "fontWeight": "bold", "color": "black"},
             "encoding": {
               "x": {"field": "hora", "type": "quantitative"},
               "y": {"field": "vel", "type": "quantitative", "axis": null},
               "text": {"field": "rotulo"}}},
            {"data": {"values": [{"rotulo": "Equinócio", "hora": 9.0, "vel": 47}]},
             "mark": {"type": "text", "align": "left", "baseline": "middle", "fontSize": 18, "fontWeight": "bold", "color": "black"},
             "encoding": {
               "x": {"field": "hora", "type": "quantitative"},
               "y": {"field": "vel", "type": "quantitative", "axis": null},
               "text": {"field": "rotulo"}}}
          ]
        },
        {
          "width": 408, "height": 142,
          "data": {"name": "vert_in"},
          "layer": [
            {"data": {"values": [{}]}, "mark": {"type": "rule", "color": "black", "strokeWidth": 1.3},
             "encoding": {"y": {"datum": 0, "type": "quantitative", "scale": {"domain": [-29.7, 35.2], "nice": false, "zero": false}, "axis": null}}},
            {"mark": {"type": "line", "color": "black", "strokeWidth": 1.2},
             "encoding": {
               "x": {"field": "hora", "type": "quantitative", "scale": {"domain": [8, 32], "nice": false, "zero": false}, "axis": null},
               "y": {"field": "vel", "type": "quantitative", "scale": {"domain": [-29.7, 35.2], "nice": false, "zero": false},
                     "axis": {"orient": "left", "values": [-20,-10,0,10,20,30], "labelExpr": "datum.value % 20 === 0 ? '' + datum.value : ''", "tickSize": -6, "labelPadding": 11, "labelFontSize": 14, "title": null}},
               "detail": {"field": "serie"}}},
            {"mark": {"type": "point", "filled": false, "size": 38, "strokeWidth": 1.2, "color": "black", "opacity": 1},
             "encoding": {
               "x": {"field": "hora", "type": "quantitative", "scale": {"domain": [8, 32], "nice": false, "zero": false}, "axis": null},
               "y": {"field": "vel", "type": "quantitative", "scale": {"domain": [-29.7, 35.2], "nice": false, "zero": false},
                     "axis": {"orient": "right", "values": [-20,-10,0,10,20,30], "labels": false, "tickSize": -6, "title": null}},
               "shape": {"field": "serie", "type": "nominal", "scale": {"domain": ["A", "B", "C"], "range": ["circle", "triangle-up", "M-1,0H1M0,-1V1"]}, "legend": null}}},
            {"data": {"values": [{"rotulo": "Inverno", "hora": 8.88, "vel": 32.4}]},
             "mark": {"type": "text", "align": "left", "baseline": "middle", "fontSize": 18, "fontWeight": "bold", "color": "black"},
             "encoding": {
               "x": {"field": "hora", "type": "quantitative", "axis": null},
               "y": {"field": "vel", "type": "quantitative", "axis": null},
               "text": {"field": "rotulo"}}}
          ]
        },
        {
          "width": 408, "height": 242,
          "data": {"name": "vert_ve"},
          "layer": [
            {"data": {"values": [{}]}, "mark": {"type": "rule", "color": "black", "strokeWidth": 1.3},
             "encoding": {"y": {"datum": 0, "type": "quantitative", "scale": {"domain": [-60.7, 49.8], "nice": false, "zero": false}, "axis": null}}},
            {"mark": {"type": "line", "color": "black", "strokeWidth": 1.2},
             "encoding": {
               "x": {"field": "hora", "type": "quantitative", "scale": {"domain": [8, 32], "nice": false, "zero": false},
                     "axis": {"orient": "bottom", "values": [8,9,10,11,12,13,14,15,16,17,18,19,20,21,22,23,24,25,26,27,28,29,30,31,32],
                              "labelExpr": "datum.value % 4 === 0 ? ((datum.value % 24) < 10 ? '0' : '') + (datum.value % 24) : ''",
                              "labelFlush": false, "labelOverlap": false, "labelFontSize": 16, "labelPadding": 11,
                              "tickSize": -5,
                              "title": "Hora local (75° O)", "titleFontSize": 25, "titlePadding": 8}},
               "y": {"field": "vel", "type": "quantitative", "scale": {"domain": [-60.7, 49.8], "nice": false, "zero": false},
                     "axis": {"orient": "left", "values": [-50,-40,-30,-20,-10,0,10,20,30,40,50], "labelExpr": "datum.value % 20 === 0 ? '' + datum.value : ''", "tickSize": -6, "labelPadding": 11, "labelFontSize": 14, "title": null}},
               "detail": {"field": "serie"}}},
            {"mark": {"type": "point", "filled": false, "size": 38, "strokeWidth": 1.2, "color": "black", "opacity": 1},
             "encoding": {
               "x": {"field": "hora", "type": "quantitative", "scale": {"domain": [8, 32], "nice": false, "zero": false}},
               "y": {"field": "vel", "type": "quantitative", "scale": {"domain": [-60.7, 49.8], "nice": false, "zero": false},
                     "axis": {"orient": "right", "values": [-50,-40,-30,-20,-10,0,10,20,30,40,50], "labels": false, "tickSize": -6, "title": null}},
               "shape": {"field": "serie", "type": "nominal", "scale": {"domain": ["A", "B", "C"], "range": ["circle", "triangle-up", "M-1,0H1M0,-1V1"]}, "legend": null}}},
            {"data": {"values": [{"rotulo": "Verão", "hora": 8.88, "vel": 41}]},
             "mark": {"type": "text", "align": "left", "baseline": "middle", "fontSize": 18, "fontWeight": "bold", "color": "black"},
             "encoding": {
               "x": {"field": "hora", "type": "quantitative"},
               "y": {"field": "vel", "type": "quantitative", "axis": null},
               "text": {"field": "rotulo"}}}
          ]
        }
      ]
    }
  ],
  "config": {
    "font": "Liberation Sans",
    "view": {"stroke": null},
    "title": {"color": "black", "font": "Liberation Sans"},
    "axis": {"grid": false, "domainColor": "black", "domainWidth": 1.5, "tickColor": "black", "tickWidth": 1.2,
             "labelColor": "black", "labelFont": "Liberation Sans", "labelFontWeight": "bold",
             "titleColor": "black", "titleFont": "Liberation Sans", "titleFontWeight": "normal"},
    "text": {"font": "Liberation Sans"}
  }
}
